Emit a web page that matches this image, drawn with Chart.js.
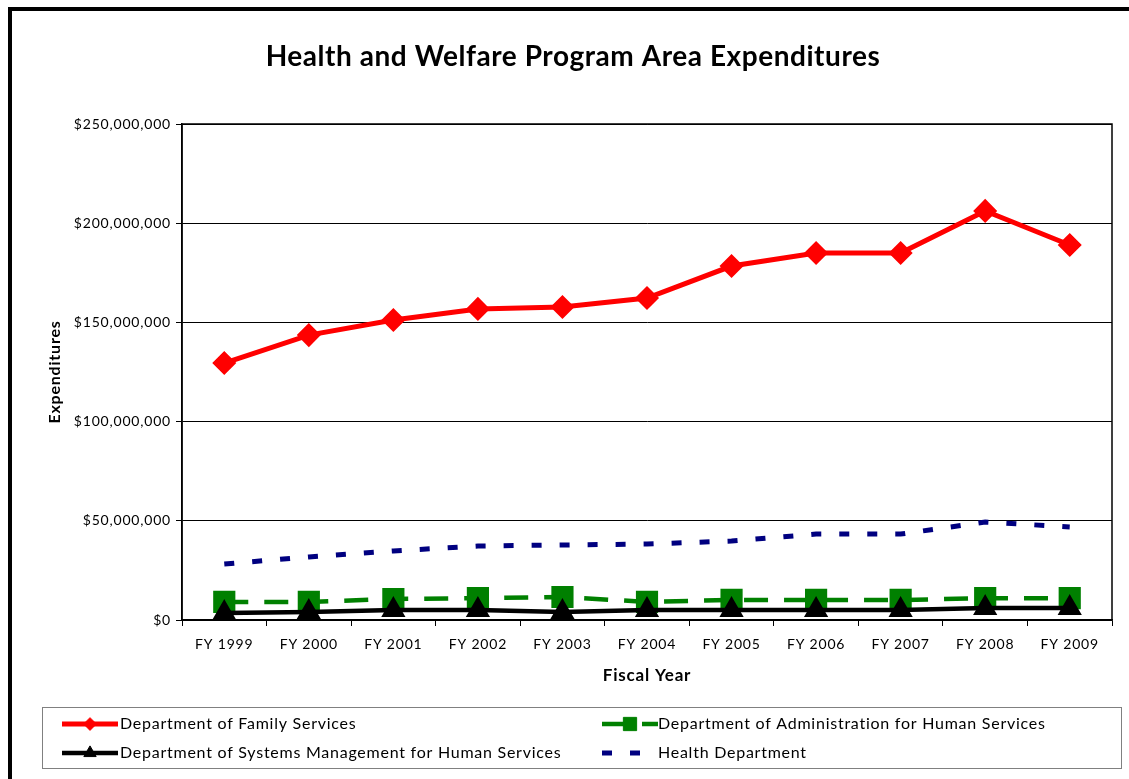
<!DOCTYPE html>
<html>
<head>
<meta charset="utf-8">
<title>Health and Welfare Program Area Expenditures</title>
<script src="https://cdn.jsdelivr.net/npm/chart.js@4/dist/chart.umd.min.js"></script>
<style>
  html, body { margin: 0; padding: 0; background: #fff; }
  #wrap { position: relative; width: 1129px; height: 779px; }
  canvas { display: block; }
</style>
</head>
<body>
<div id="wrap"><canvas id="chart" width="1129" height="779"></canvas></div>
<script>
// Fiscal years on the category axis
const fiscalYears = ['FY 1999', 'FY 2000', 'FY 2001', 'FY 2002', 'FY 2003', 'FY 2004',
                     'FY 2005', 'FY 2006', 'FY 2007', 'FY 2008', 'FY 2009'];

// Expenditures by department, in dollars
const familyServices = [129500000, 143600000, 151200000, 156800000, 157800000, 162300000,
                        178400000, 185000000, 185000000, 206200000, 189000000];
const adminHumanServices = [9100000, 9100000, 10600000, 11000000, 11600000, 9100000,
                            10100000, 10100000, 10100000, 11000000, 11000000];
const systemsManagement = [3500000, 4000000, 5000000, 5000000, 4000000, 5000000,
                           5000000, 5000000, 5000000, 6000000, 6000000];
const healthDepartment = [28200000, 31800000, 34800000, 37300000, 37800000, 38300000,
                          39800000, 43300000, 43300000, 49400000, 46900000];

const seriesNames = ['Department of Family Services',
                     'Department of Administration for Human Services',
                     'Department of Systems Management for Human Services',
                     'Health Department'];

const yMax = 250000000;
const yStep = 50000000;

const FONT = 'Lato, "Open Sans", sans-serif';
const BASE_SPACING = '0.8px';

function dollars(v) {
  return '$' + Math.round(v).toString().replace(/\B(?=(\d{3})+(?!\d))/g, ',');
}

// Slightly airy text for everything the scales draw
const spacing = {
  id: 'spacing',
  beforeUpdate(chart) { chart.ctx.letterSpacing = BASE_SPACING; },
  beforeDraw(chart) { chart.ctx.letterSpacing = BASE_SPACING; }
};

// Outer frame, title, plot border and a two-column legend box
const decorations = {
  id: 'decorations',
  beforeDraw(chart) {
    const ctx = chart.ctx;
    ctx.save();
    ctx.fillStyle = '#fff';
    ctx.fillRect(0, 0, chart.width, chart.height);
    ctx.restore();
  },
  afterDraw(chart) {
    const ctx = chart.ctx;
    const a = chart.chartArea;
    ctx.save();

    // frame on the left and top
    ctx.strokeStyle = '#000';
    ctx.lineWidth = 4;
    ctx.beginPath();
    ctx.moveTo(10, chart.height);
    ctx.lineTo(10, 9);
    ctx.lineTo(chart.width, 9);
    ctx.stroke();

    // plot border
    ctx.lineWidth = 1.5;
    ctx.strokeStyle = '#000';
    ctx.strokeRect(a.left, a.top, a.right - a.left, a.bottom - a.top);

    // title
    ctx.fillStyle = '#000';
    ctx.letterSpacing = '0.55px';
    ctx.font = 'bold 28px ' + FONT;
    ctx.textAlign = 'center';
    ctx.textBaseline = 'middle';
    ctx.fillText('Health and Welfare Program Area Expenditures', 573, 57);

    // legend box
    ctx.lineWidth = 1;
    ctx.strokeStyle = '#808080';
    ctx.strokeRect(42.5, 707.5, 1079, 61);

    const slots = [
      {x: 62, y: 724}, {x: 602, y: 724},
      {x: 62, y: 753}, {x: 602, y: 753}
    ];
    const ds = chart.data.datasets;
    ctx.letterSpacing = '0.75px';
    ctx.font = '16px ' + FONT;
    ctx.textAlign = 'left';
    ctx.textBaseline = 'middle';
    for (let i = 0; i < ds.length; i++) {
      const d = ds[i];
      const s = slots[i];
      ctx.save();
      ctx.strokeStyle = d.borderColor;
      ctx.lineWidth = d.borderWidth;
      ctx.setLineDash(d.borderDash || []);
      ctx.beginPath();
      ctx.moveTo(s.x, s.y);
      ctx.lineTo(s.x + 56, s.y);
      ctx.stroke();
      ctx.restore();
      if (d.pointRadius > 0) {
        ctx.save();
        ctx.fillStyle = d.pointBackgroundColor;
        ctx.strokeStyle = d.pointBorderColor;
        ctx.lineWidth = 1;
        Chart.helpers.drawPoint(ctx, {
          pointStyle: d.pointStyle,
          radius: d.pointRadius * 0.75,
          rotation: 0,
          borderWidth: 1
        }, s.x + 28, s.y);
        ctx.restore();
      }
      ctx.fillStyle = '#000';
      ctx.fillText(d.label, s.x + (i % 2 === 1 ? 56 : 58), s.y);
    }
    ctx.restore();
  }
};

new Chart(document.getElementById('chart'), {
  type: 'line',
  data: {
    labels: fiscalYears,
    datasets: [
      {
        label: seriesNames[0],
        data: familyServices,
        borderColor: '#ff0000',
        backgroundColor: '#ff0000',
        borderWidth: 5,
        pointStyle: 'rectRot',
        pointRadius: 8.5,
        pointBackgroundColor: '#ff0000',
        pointBorderColor: '#ff0000',
        tension: 0,
        order: 1
      },
      {
        label: seriesNames[1],
        data: adminHumanServices,
        borderColor: '#008000',
        backgroundColor: '#008000',
        borderWidth: 4.5,
        borderDash: [24, 16],
        pointStyle: 'rect',
        pointRadius: 12.5,
        pointBackgroundColor: '#008000',
        pointBorderColor: '#008000',
        tension: 0,
        order: 2
      },
      {
        label: seriesNames[2],
        data: systemsManagement,
        borderColor: '#000000',
        backgroundColor: '#000000',
        borderWidth: 4.5,
        pointStyle: 'triangle',
        pointRadius: 9.5,
        pointBackgroundColor: '#000000',
        pointBorderColor: '#000000',
        tension: 0,
        order: 0
      },
      {
        label: seriesNames[3],
        data: healthDepartment,
        borderColor: '#000080',
        backgroundColor: '#000080',
        borderWidth: 5,
        borderDash: [10, 18],
        pointRadius: 0,
        tension: 0,
        order: 3
      }
    ]
  },
  options: {
    responsive: false,
    animation: false,
    events: [],
    layout: { padding: { left: 12, right: 14, top: 124, bottom: 89 } },
    plugins: {
      legend: { display: false },
      title: { display: false },
      tooltip: { enabled: false }
    },
    scales: {
      x: {
        type: 'category',
        offset: true,
        grid: {
          offset: true,
          drawOnChartArea: false,
          drawTicks: true,
          tickLength: 6,
          color: '#000',
          lineWidth: 1
        },
        border: { display: true, color: '#000', width: 1.5 },
        ticks: {
          color: '#000',
          font: { family: FONT, size: 14 },
          padding: 10,
          maxRotation: 0,
          autoSkip: false
        },
        title: {
          display: true,
          text: 'Fiscal Year',
          color: '#000',
          font: { family: FONT, size: 17, weight: 'bold' },
          padding: { top: 0, bottom: 4 }
        },
        afterFit(scale) { scale.height = 70; }
      },
      y: {
        min: 0,
        max: yMax,
        grid: {
          color: '#000',
          lineWidth: 1,
          drawTicks: true,
          tickLength: 6
        },
        border: { display: true, color: '#000', width: 1.5 },
        ticks: {
          stepSize: yStep,
          color: '#000',
          font: { family: FONT, size: 14 },
          padding: 5,
          callback: (v) => dollars(v)
        },
        title: {
          display: true,
          text: 'Expenditures',
          color: '#000',
          font: { family: FONT, size: 16, weight: 'bold' },
          padding: { top: 33, bottom: 0 }
        },
        afterFit(scale) { scale.width = 170; }
      }
    }
  },
  plugins: [spacing, decorations]
});
</script>
</body>
</html>
